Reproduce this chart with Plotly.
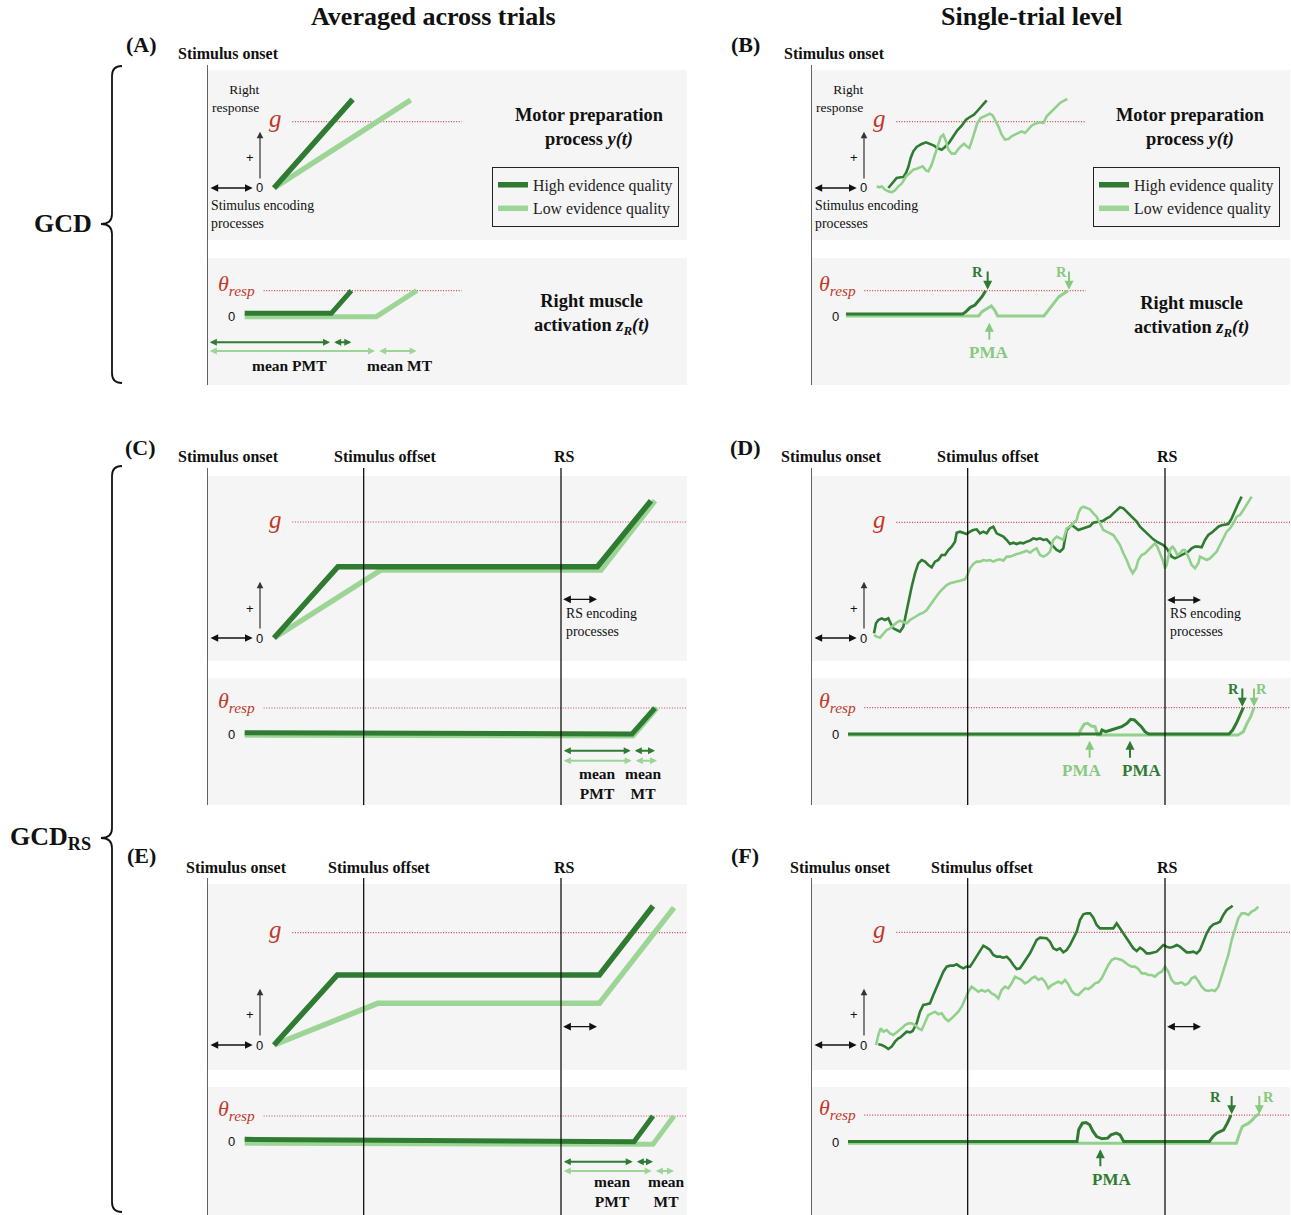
import plotly.graph_objects as go

W, H = 1291, 1215
PX = 3  # data units (ms / a.u.) per screen pixel

DARK = '#2f7b31'
LIGHT = '#9dd596'
LIGHT_RW = '#92d18b'
LIGHT_TXT = '#86c97f'
RED = '#c0392b'
RED_LINE = '#c8474a'
INK = '#111111'
BG = '#f5f5f5'
SERIF = 'Liberation Serif'
SANS = 'Liberation Sans'

# ------------------------------------------------------------------ data
# time in ms from stimulus onset, activation in arbitrary units (0 = baseline)
STIM_OFFSET = 470
RS_TIME = 1062
STIM_ENC_END = 137
RS_ENC = 108

G = dict(A=199, B=199, C=348, D=347, E=337, F=338)       # motor preparation threshold g
THETA = dict(A=76, B=76, C=78, D=79, E=75, F=82)         # muscle threshold theta_resp

# (A) averaged, GCD
A_TOP_HIGH = [(201, 0), (437, 266)]
A_TOP_LOW = [(201, 0), (611, 264)]
A_BOT_HIGH = [(113, 8), (373, 8), (433, 76)]
A_BOT_LOW = [(113, -2), (508, -2), (629, 76)]

# (C) averaged, GCD_RS (same final threshold crossing)
C_TOP_HIGH = [(201, 0), (393, 214), (1171, 214), (1332, 412)]
C_TOP_LOW = [(201, 0), (522, 204), (1182, 204), (1344, 412)]
C_BOT_HIGH = [(113, 4), (1275, 0), (1344, 78)]
C_BOT_LOW = [(113, -4), (1278, -6), (1350, 78)]

# (E) averaged, GCD_RS (different plateaus)
E_TOP_HIGH = [(201, 0), (391, 210), (1177, 210), (1338, 417)]
E_TOP_LOW = [(201, 0), (512, 125), (1177, 125), (1401, 412)]
E_BOT_HIGH = [(113, 5), (1281, -2), (1338, 75)]
E_BOT_LOW = [(113, -7), (1338, -10), (1401, 75)]

# (B) single trial, GCD
B_TOP_HIGH = [(232, 0), (239, 8), (247, 20), (257, 30), (269, 32), (277, 33), (285, 45), (292, 63),
              (299, 90), (307, 110), (317, 123), (332, 132), (345, 137), (357, 132), (369, 127),
              (379, 120), (392, 115), (402, 123), (415, 137), (427, 155), (439, 173), (452, 187),
              (465, 205), (477, 213), (489, 220), (499, 231), (509, 243), (519, 255), (527, 263)]
B_TOP_LOW = [(197, 5), (205, 2), (212, 5), (222, -5), (232, -10), (242, -13), (252, -7), (262, 5),
             (272, 13), (279, 25), (287, 37), (297, 45), (307, 55), (317, 58), (327, 63), (335, 65),
             (345, 53), (352, 50), (362, 70), (372, 100), (382, 130), (389, 153), (397, 160),
             (405, 140), (412, 115), (422, 103), (432, 103), (442, 117), (452, 127), (459, 133),
             (467, 125), (475, 120), (482, 140), (490, 165), (499, 195), (509, 210), (522, 217),
             (537, 223), (545, 218), (552, 205), (562, 185), (572, 160), (582, 145), (592, 147),
             (602, 155), (612, 160), (622, 165), (632, 170), (642, 165), (652, 175), (662, 187),
             (672, 193), (687, 197), (697, 195), (707, 215), (717, 225), (727, 235), (737, 245),
             (747, 255), (759, 262), (769, 267)]
B_BOT_HIGH = [(105, 6), (455, 6), (465, 13), (478, 26), (492, 33), (503, 46), (513, 58), (524, 76)]
B_BOT_LOW = [(105, 0), (503, 0), (513, 13), (528, 23), (541, 30), (551, 18), (560, 0), (699, 0),
             (712, 18), (728, 38), (744, 58), (760, 68), (771, 76)]

# (D) single trial, GCD_RS
D_TOP_HIGH = [(189, 14), (195, 44), (202, 54), (212, 59), (222, 54), (232, 59), (239, 44), (247, 29),
              (257, 24), (267, 19), (277, 34), (282, 59), (292, 104), (302, 154), (312, 194),
              (322, 224), (332, 234), (342, 229), (352, 219), (362, 212), (372, 229), (382, 234),
              (392, 249), (402, 249), (412, 264), (422, 274), (432, 289), (437, 316), (447, 319),
              (457, 316), (467, 312), (477, 319), (487, 324), (497, 326), (507, 314), (517, 319),
              (527, 314), (537, 329), (547, 334), (557, 314), (567, 309), (577, 304), (587, 294),
              (597, 282), (607, 286), (617, 282), (627, 286), (637, 284), (647, 289), (657, 292),
              (667, 299), (677, 296), (687, 299), (697, 294), (707, 296), (719, 284), (737, 264),
              (747, 259), (757, 269), (767, 324), (782, 339), (802, 324), (817, 329), (827, 334),
              (837, 336), (847, 346), (867, 349), (877, 352), (887, 359), (897, 364), (907, 374),
              (917, 384), (927, 392), (937, 389), (947, 379), (957, 369), (967, 359), (977, 349),
              (987, 334), (997, 324), (1007, 314), (1017, 304), (1027, 296), (1037, 289),
              (1047, 284), (1057, 279), (1067, 269), (1082, 244), (1092, 239), (1102, 244),
              (1112, 249), (1122, 254), (1132, 259), (1142, 269), (1152, 274), (1162, 274),
              (1172, 272), (1182, 294), (1192, 309), (1202, 316), (1212, 326), (1222, 334),
              (1232, 338), (1242, 339), (1252, 342), (1262, 359), (1272, 384), (1282, 404), (1292, 424)]
D_TOP_LOW = [(189, 9), (197, 4), (207, 1), (217, 14), (227, 24), (237, 29), (247, 39), (257, 46),
             (267, 52), (277, 49), (287, 44), (297, 54), (307, 59), (317, 66), (327, 72), (337, 76),
             (347, 84), (357, 99), (367, 114), (377, 126), (387, 139), (397, 149), (407, 159),
             (417, 164), (432, 169), (447, 172), (462, 176), (469, 189), (477, 209), (487, 222),
             (497, 229), (507, 229), (517, 234), (527, 232), (537, 234), (547, 229), (557, 234),
             (567, 236), (577, 232), (587, 244), (597, 244), (607, 249), (617, 252), (627, 254),
             (637, 259), (647, 262), (657, 256), (667, 264), (677, 269), (687, 249), (697, 244),
             (707, 249), (717, 259), (722, 279), (727, 294), (737, 304), (747, 299), (757, 294),
             (767, 329), (777, 334), (787, 344), (797, 354), (802, 374), (809, 389), (817, 394),
             (827, 389), (837, 386), (847, 374), (857, 364), (867, 344), (877, 324), (887, 319),
             (897, 314), (907, 309), (917, 294), (927, 279), (937, 254), (947, 234), (957, 209),
             (965, 194), (975, 209), (982, 234), (992, 249), (1002, 254), (1012, 264), (1022, 274),
             (1032, 284), (1039, 274), (1047, 254), (1055, 234), (1062, 209), (1067, 219),
             (1072, 244), (1079, 269), (1085, 274), (1092, 264), (1099, 249), (1107, 254),
             (1115, 264), (1122, 264), (1132, 244), (1142, 219), (1152, 209), (1162, 224),
             (1167, 244), (1177, 239), (1187, 234), (1197, 239), (1207, 249), (1217, 259),
             (1227, 279), (1237, 299), (1247, 319), (1257, 329), (1267, 344), (1277, 364),
             (1287, 369), (1297, 384), (1307, 399), (1317, 414), (1322, 424)]
D_BOT_HIGH = [(111, 0), (868, 0), (873, 12), (884, 7), (900, 12), (916, 17), (932, 22), (948, 32),
              (959, 44), (970, 42), (981, 32), (991, 22), (1002, 7), (1013, 0), (1254, 0),
              (1265, 12), (1276, 32), (1286, 57), (1297, 79)]
D_BOT_LOW = [(111, -3), (803, -3), (809, 12), (820, 30), (830, 32), (841, 24), (852, 22), (860, -3),
             (1281, -3), (1297, 7), (1308, 32), (1319, 52), (1329, 79)]

# (F) single trial, GCD_RS
F_TOP_HIGH = [(202, 2), (212, 0), (222, -5), (232, -12), (242, -5), (252, 10), (262, 20), (267, 22),
              (287, 40), (297, 38), (305, 42), (317, 65), (327, 100), (337, 120), (347, 122),
              (357, 125), (367, 150), (377, 175), (387, 200), (397, 220), (407, 235), (417, 238),
              (427, 238), (437, 242), (447, 235), (457, 230), (467, 235), (477, 235), (487, 250),
              (497, 265), (507, 280), (517, 298), (527, 292), (537, 285), (547, 270), (557, 265),
              (567, 265), (577, 262), (587, 265), (597, 255), (607, 240), (617, 228), (627, 230),
              (637, 245), (647, 260), (657, 275), (667, 295), (677, 315), (687, 322), (697, 320),
              (707, 320), (717, 310), (727, 290), (737, 285), (747, 290), (757, 278), (767, 285),
              (777, 300), (787, 322), (797, 340), (807, 375), (817, 392), (827, 395), (837, 395),
              (847, 382), (857, 360), (867, 350), (877, 350), (887, 350), (897, 352), (907, 350),
              (917, 365), (927, 350), (937, 335), (947, 320), (957, 305), (967, 290), (977, 282),
              (987, 292), (997, 285), (1007, 275), (1017, 275), (1027, 278), (1037, 280),
              (1047, 290), (1057, 300), (1067, 295), (1077, 292), (1087, 295), (1097, 300),
              (1107, 295), (1117, 285), (1127, 278), (1137, 278), (1147, 280), (1157, 275),
              (1167, 285), (1177, 310), (1187, 335), (1197, 352), (1207, 362), (1217, 365),
              (1227, 370), (1237, 390), (1247, 405), (1257, 412), (1265, 418)]
F_TOP_LOW = [(195, 0), (202, 30), (209, 50), (217, 40), (227, 45), (237, 35), (247, 30), (257, 40),
             (265, 45), (272, 50), (282, 60), (292, 65), (302, 65), (312, 60), (322, 50), (332, 45),
             (342, 65), (352, 90), (362, 95), (372, 100), (382, 92), (392, 95), (402, 80), (412, 72),
             (422, 80), (432, 90), (442, 100), (452, 115), (462, 140), (472, 160), (482, 175),
             (492, 168), (502, 160), (512, 165), (522, 160), (532, 165), (542, 155), (552, 150),
             (562, 140), (572, 165), (582, 175), (592, 170), (602, 185), (612, 205), (622, 200),
             (632, 195), (642, 185), (652, 190), (662, 200), (672, 205), (682, 195), (692, 200),
             (702, 190), (712, 170), (722, 180), (732, 185), (742, 190), (752, 185), (762, 195),
             (772, 182), (782, 162), (792, 152), (802, 150), (812, 160), (822, 170), (832, 168),
             (842, 175), (852, 185), (862, 188), (872, 200), (882, 220), (892, 240), (902, 255),
             (912, 260), (922, 258), (932, 255), (942, 248), (952, 240), (962, 235), (972, 235),
             (982, 228), (992, 215), (1002, 215), (1012, 210), (1022, 210), (1032, 205),
             (1042, 215), (1052, 220), (1062, 235), (1072, 220), (1082, 195), (1092, 185),
             (1102, 185), (1112, 188), (1122, 180), (1132, 185), (1142, 200), (1152, 205),
             (1162, 192), (1172, 175), (1182, 165), (1192, 162), (1202, 165), (1212, 162),
             (1222, 175), (1232, 205), (1242, 235), (1252, 270), (1262, 315), (1272, 350),
             (1282, 380), (1292, 395), (1302, 395), (1312, 390), (1322, 400), (1332, 405), (1342, 415)]
F_BOT_HIGH = [(111, 3), (798, 3), (803, 38), (814, 58), (825, 60), (836, 53), (846, 33), (857, 18),
              (873, 11), (890, 13), (900, 23), (916, 28), (927, 23), (938, 3), (1195, 3), (1206, 18),
              (1217, 28), (1228, 33), (1238, 38), (1249, 58), (1260, 82)]
F_BOT_LOW = [(111, -2), (1276, -2), (1286, 28), (1294, 48), (1303, 53), (1313, 58), (1324, 68),
             (1333, 78), (1345, 86)]

SERIES = {
    'A': (A_TOP_HIGH, A_TOP_LOW, A_BOT_HIGH, A_BOT_LOW),
    'B': (B_TOP_HIGH, B_TOP_LOW, B_BOT_HIGH, B_BOT_LOW),
    'C': (C_TOP_HIGH, C_TOP_LOW, C_BOT_HIGH, C_BOT_LOW),
    'D': (D_TOP_HIGH, D_TOP_LOW, D_BOT_HIGH, D_BOT_LOW),
    'E': (E_TOP_HIGH, E_TOP_LOW, E_BOT_HIGH, E_BOT_LOW),
    'F': (F_TOP_HIGH, F_TOP_LOW, F_BOT_HIGH, F_BOT_LOW),
}
LEGEND_NAMES = ['High evidence quality', 'Low evidence quality']

# ------------------------------------------------------------------ layout geometry (pixels)
COLS = {'L': (207, 687), 'R': (811, 1290)}
GEOM = {
    'A': dict(col='L', top=(70, 240, 188), bot=(258, 385, 316), vline=(65, 385)),
    'B': dict(col='R', top=(70, 240, 188), bot=(258, 385, 316), vline=(65, 385)),
    'C': dict(col='L', top=(476, 661, 638), bot=(678, 805, 734), vline=(468, 805)),
    'D': dict(col='R', top=(476, 661, 638), bot=(678, 805, 734), vline=(468, 805)),
    'E': dict(col='L', top=(884, 1070, 1045), bot=(1087, 1215, 1141), vline=(878, 1215)),
    'F': dict(col='R', top=(884, 1070, 1045), bot=(1087, 1215, 1142.5), vline=(878, 1215)),
}


def P(xpx, ypx):
    return xpx / W, 1 - ypx / H


fig = go.Figure()
axes_layout = {}
AX = {}
n = 0
for p in 'ABCDEF':
    g = GEOM[p]
    x0, x1 = COLS[g['col']]
    for part in ('top', 'bot'):
        n += 1
        ytop, ybot, yzero = g[part]
        xa = 'xaxis' if n == 1 else f'xaxis{n}'
        ya = 'yaxis' if n == 1 else f'yaxis{n}'
        xr = 'x' if n == 1 else f'x{n}'
        yr = 'y' if n == 1 else f'y{n}'
        axes_layout[xa] = dict(domain=[x0 / W, x1 / W], range=[0, PX * (x1 - x0)], visible=False,
                               fixedrange=True, anchor=yr, showgrid=False, zeroline=False)
        axes_layout[ya] = dict(domain=[1 - ybot / H, 1 - ytop / H],
                               range=[-PX * (ybot - yzero), PX * (yzero - ytop)], visible=False,
                               fixedrange=True, anchor=xr, showgrid=False, zeroline=False)
        AX[(p, part)] = (xr, yr)


def add_line(p, part, pairs, color, width, name=None, legend=None, rank=None):
    xr, yr = AX[(p, part)]
    ts = [a for a, _ in pairs]
    vs = [b for _, b in pairs]
    if name:
        kw = dict(name=name, showlegend=True, legend=legend, legendrank=rank)
    else:
        kw = dict(showlegend=False)
    fig.add_trace(go.Scatter(x=ts, y=vs, mode='lines', line=dict(color=color, width=width),
                             xaxis=xr, yaxis=yr, hoverinfo='skip', **kw))


AVERAGED = 'ACE'
for p in 'ABCDEF':
    top_h, top_l, bot_h, bot_l = SERIES[p]
    if p in AVERAGED:
        if p == 'A':
            add_line(p, 'top', top_l, LIGHT, 5.5, LEGEND_NAMES[1], 'legend', 2)
            add_line(p, 'top', top_h, DARK, 5.5, LEGEND_NAMES[0], 'legend', 1)
        else:
            add_line(p, 'top', top_l, LIGHT, 5.5)
            add_line(p, 'top', top_h, DARK, 5.5)
        add_line(p, 'bot', bot_l, LIGHT, 5)
        add_line(p, 'bot', bot_h, DARK, 5)
    else:
        add_line(p, 'top', top_h, DARK, 2.6)
        add_line(p, 'top', top_l, LIGHT_RW, 2.6)
        add_line(p, 'bot', bot_l, LIGHT_RW, 3)
        add_line(p, 'bot', bot_h, DARK, 3)

# legend-only entries for panel B legend
for name, col, rank in ((LEGEND_NAMES[0], DARK, 1), (LEGEND_NAMES[1], LIGHT, 2)):
    fig.add_trace(go.Scatter(x=[None], y=[None], mode='lines', line=dict(color=col, width=5.5),
                             name=name, legend='legend2', legendrank=rank, showlegend=True,
                             xaxis=AX[('B', 'top')][0], yaxis=AX[('B', 'top')][1]))

shapes = []
annotations = []


def ptext(xpx, ypx, s, size, color=INK, bold=False, family=SERIF, xanchor='center',
          yanchor='middle', align='center'):
    x, y = P(xpx, ypx)
    if bold:
        s = f'<b>{s}</b>'
    annotations.append(dict(x=x, y=y, xref='paper', yref='paper', text=s, showarrow=False,
                            font=dict(family=family, size=size, color=color), xanchor=xanchor,
                            yanchor=yanchor, align=align))


def dtext(p, part, t, v, s, size, color=INK, bold=False, family=SERIF, xanchor='center',
          yanchor='middle', align='center', yshift=0):
    xr, yr = AX[(p, part)]
    if bold:
        s = f'<b>{s}</b>'
    annotations.append(dict(x=t, y=v, xref=xr, yref=yr, text=s, showarrow=False,
                            font=dict(family=family, size=size, color=color), xanchor=xanchor,
                            yanchor=yanchor, align=align, yshift=yshift))


def darrow(p, part, t0, v0, t1, v1, color=INK, width=1.5, both=False, head=2, size=1.0):
    xr, yr = AX[(p, part)]
    annotations.append(dict(x=t1, y=v1, ax=t0, ay=v0, xref=xr, yref=yr, axref=xr, ayref=yr,
                            text='', showarrow=True, arrowhead=head, arrowsize=size,
                            arrowwidth=width, arrowcolor=color,
                            arrowside='end+start' if both else 'end',
                            startarrowhead=head, startarrowsize=size, standoff=0,
                            startstandoff=0))


def hline(p, part, t0, t1, v):
    xr, yr = AX[(p, part)]
    shapes.append(dict(type='line', xref=xr, yref=yr, x0=t0, x1=t1, y0=v, y1=v,
                       line=dict(color=RED_LINE, width=1.1, dash='1px,1.6px'), layer='below'))


# ---------------- per-panel decorations
G_LABEL_T = 230
G_LINE_T0 = 256
TH_LABEL_T = {'L': 150, 'R': 140}
TH_LINE_T0 = {'L': 170, 'R': 160}
THRESH_END = {'A': 764, 'B': 824}

for p in 'ABCDEF':
    gm = GEOM[p]
    col = gm['col']
    x0, x1 = COLS[col]
    tmax = PX * (x1 - x0)
    xr_top = AX[(p, 'top')][0]
    # event lines
    events = [0] if p in 'AB' else [0, STIM_OFFSET, RS_TIME]
    for ev in events:
        shapes.append(dict(type='line', xref=xr_top, yref='paper', x0=ev, x1=ev,
                           y0=1 - gm['vline'][1] / H, y1=1 - gm['vline'][0] / H,
                           line=dict(color=INK, width=1.3)))
    # thresholds
    tend = THRESH_END.get(p, tmax)
    hline(p, 'top', G_LINE_T0, tend, G[p])
    hline(p, 'bot', TH_LINE_T0[col], tend, THETA[p])
    dtext(p, 'top', G_LABEL_T, G[p], '<i>g</i>', 25, RED, xanchor='right', yshift=3)
    dtext(p, 'bot', TH_LABEL_T[col], THETA[p], '<i>θ<sub>resp</sub></i>', 22, RED,
          xanchor='right', yshift=6)
    # zero labels, axis arrow, encoding arrow
    dtext(p, 'top', 157, 0, '0', 13, family=SANS)
    dtext(p, 'bot', 75, 0, '0', 13, family=SANS)
    dtext(p, 'top', 128, 90, '+', 13, family=SANS)
    darrow(p, 'top', 159, 24, 159, 169, color='#333333', width=1.2, head=2, size=1.1)
    darrow(p, 'top', 6, 0, STIM_ENC_END, 0, width=1.4, both=True, head=2, size=1.1)

# panels A & B texts
for p in 'AB':
    dtext(p, 'top', 161, 267, 'Right<br>response', 13.5, xanchor='right', align='right')
    dtext(p, 'top', 6, -80, 'Stimulus encoding<br>processes', 13.8, xanchor='left', align='left')

# RS encoding arrows
for p, v in (('C', 116), ('D', 114), ('E', 55), ('F', 55)):
    darrow(p, 'top', RS_TIME + 2, v, RS_TIME + RS_ENC, v, width=1.4, both=True, head=2, size=1.1)
for p in 'CD':
    dtext(p, 'top', 1070, 46, 'RS encoding<br>processes', 13.8, xanchor='left', align='left')

# mean PMT / MT arrows in averaged panels
PMT_ROWS = {
    'A': (0, (-79, -105), (247, 580, -147), 'mean PMT', 'mean MT'),
    'C': (RS_TIME, (-50, -80), (1171, 1309, -148), 'mean<br>PMT', 'mean<br>MT'),
    'E': (RS_TIME, (-62, -90), (1217, 1378, -150), 'mean<br>PMT', 'mean<br>MT'),
}
for p, (start, (vh, vl), (tp, tm, vt), s1, s2) in PMT_ROWS.items():
    _, _, bot_h, bot_l = SERIES[p]
    for pairs, v, colr in ((bot_h, vh, DARK), (bot_l, vl, LIGHT)):
        brk, end = pairs[-2][0], pairs[-1][0]
        darrow(p, 'bot', start + 4, v, brk - 4, v, color=colr, width=2, both=True, head=2, size=0.7)
        darrow(p, 'bot', brk + 4, v, end, v, color=colr, width=2, both=True, head=2, size=0.7)
    dtext(p, 'bot', tp, vt, s1, 15.5, bold=True)
    dtext(p, 'bot', tm, vt, s2, 15.5, bold=True)

# R (response) and PMA (partial muscle activation) markers
R_MARKS = {
    'B': [(530, 500, DARK), (774, 751, LIGHT_TXT)],
    'D': [(1294, 1268, DARK), (1329, 1351, LIGHT_TXT)],
    'F': [(1262, 1212, DARK), (1345, 1372, LIGHT_TXT)],
}
for p, marks in R_MARKS.items():
    th = THETA[p]
    for ta, tt, colr in marks:
        darrow(p, 'bot', ta, th + 62, ta, th + 3, color=colr, width=2, head=2, size=0.9)
        dtext(p, 'bot', tt, th + 56, 'R', 14.5, colr, bold=True)

PMA_MARKS = {
    'B': [(535, 534, LIGHT_TXT)],
    'D': [(836, 810, LIGHT_TXT), (957, 990, DARK)],
    'F': [(868, 900, DARK)],
}
for p, marks in PMA_MARKS.items():
    for ta, tt, colr in marks:
        darrow(p, 'bot', ta, -76, ta, -20, color=colr, width=2, head=2, size=0.9)
        dtext(p, 'bot', tt, -110, 'PMA', 17, colr, bold=True)

# ---------------- headers / titles (paper)
ptext(433, 17, 'Averaged across trials', 26, bold=True)
ptext(1031, 17, 'Single-trial level', 26, bold=True)
ptext(63, 224, 'GCD', 26, bold=True)
ptext(50, 838, 'GCD<sub>RS</sub>', 26, bold=True)
for lab, (x, y) in {'(A)': (141, 45), '(B)': (745, 45), '(C)': (140, 447), '(D)': (745, 447),
                    '(E)': (141, 855), '(F)': (745, 855)}.items():
    ptext(x, y, lab, 22, bold=True)
HEADERS = [
    (228, 54, 'Stimulus onset'), (834, 54, 'Stimulus onset'),
    (228, 457, 'Stimulus onset'), (385, 457, 'Stimulus offset'), (564, 457, 'RS'),
    (831, 457, 'Stimulus onset'), (988, 457, 'Stimulus offset'), (1167, 457, 'RS'),
    (236, 868, 'Stimulus onset'), (379, 868, 'Stimulus offset'), (564, 868, 'RS'),
    (840, 868, 'Stimulus onset'), (982, 868, 'Stimulus offset'), (1167, 868, 'RS'),
]
for x, y, s in HEADERS:
    ptext(x, y, s, 16, bold=True)
for xc in (589, 1190):
    ptext(xc, 127.5, 'Motor preparation<br>process <i>y(t)</i>', 18.4, bold=True)
ptext(591, 314, 'Right muscle<br>activation <i>z<sub>R</sub>(t)</i>', 18.4, bold=True)
ptext(1191, 316, 'Right muscle<br>activation <i>z<sub>R</sub>(t)</i>', 18.4, bold=True)


# ---------------- braces
def brace(yt, ym, yb, xe=122, xs=112, xt=101, r=10):
    X = lambda v: f'{v / W:.5f}'
    Y = lambda v: f'{1 - v / H:.5f}'
    return (f'M {X(xe)},{Y(yt)} Q {X(xs)},{Y(yt)} {X(xs)},{Y(yt + r)} '
            f'L {X(xs)},{Y(ym - r)} Q {X(xs)},{Y(ym)} {X(xt)},{Y(ym)} '
            f'Q {X(xs)},{Y(ym)} {X(xs)},{Y(ym + r)} L {X(xs)},{Y(yb - r)} '
            f'Q {X(xs)},{Y(yb)} {X(xe)},{Y(yb)}')


for yt, ym, yb in ((66, 224, 383), (466, 838, 1212)):
    shapes.append(dict(type='path', xref='paper', yref='paper', path=brace(yt, ym, yb),
                       line=dict(color=INK, width=1.8)))

legend_common = dict(xanchor='left', yanchor='top', bgcolor='rgba(0,0,0,0)', bordercolor='#222222',
                     borderwidth=1, font=dict(family=SERIF, size=15.8, color='#222222'),
                     tracegroupgap=0, itemwidth=30)

fig.update_layout(
    width=W, height=H, margin=dict(l=0, r=0, t=0, b=0),
    paper_bgcolor='white', plot_bgcolor=BG,
    showlegend=True,
    legend=dict(x=492 / W, y=1 - 167 / H, **legend_common),
    legend2=dict(x=1093 / W, y=1 - 167 / H, **legend_common),
    shapes=shapes, annotations=annotations,
    **axes_layout,
)

fig.write_html('out.html')
